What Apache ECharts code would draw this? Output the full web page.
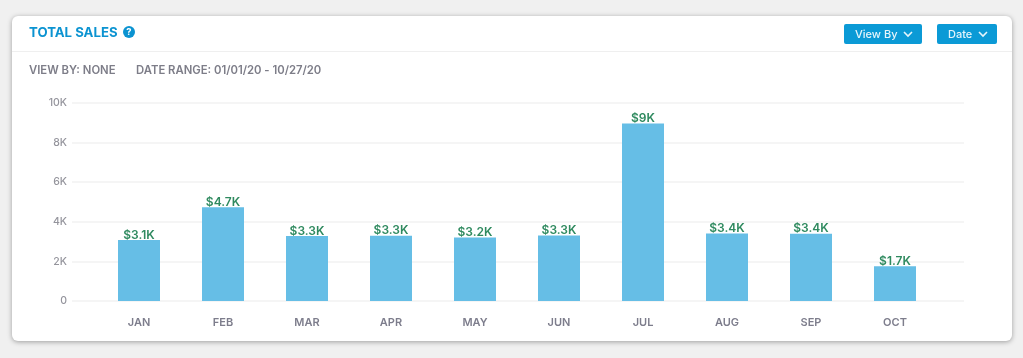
<!DOCTYPE html>
<html><head><meta charset="utf-8">
<style>html,body{margin:0;padding:0;background:#f0f0f0}#c{width:1023px;height:358px}</style>
<script src="https://cdn.jsdelivr.net/npm/echarts@6/dist/echarts.min.js"></script>
</head><body><div id="c"></div>
<script>
const months = ['JAN','FEB','MAR','APR','MAY','JUN','JUL','AUG','SEP','OCT'];
const sales = [3080,4740,3280,3290,3210,3310,8960,3410,3400,1749];
const yTicks = {min:0,max:10000,interval:2000};
const font = 'Inter, "Open Sans", sans-serif';
const chart = echarts.init(document.getElementById('c'));
const fmt = v => '$' + (v/1000).toFixed(1).replace(/\.0$/,'') + 'K';
function btn(x,w,label,tx){
  return [
    {type:'rect',shape:{x:x,y:24,width:w,height:20,r:2},style:{fill:'#0b9ad6'},z:2},
    {type:'text',style:{x:tx,y:34.5,text:label,fill:'#e6f5fb',font:'500 11px '+font,verticalAlign:'middle'},z:3},
    {type:'polyline',shape:{points:[[x+w-18,32],[x+w-14,36],[x+w-10,32]]},style:{stroke:'#e6f5fb',lineWidth:1.6,fill:null},z:3}
  ];
}
chart.setOption({
  animation:false,
  backgroundColor:'#f0f0f0',
  graphic:[
    {type:'rect',shape:{x:12,y:16,width:1000,height:325,r:6},style:{fill:'#fff',shadowBlur:5,shadowColor:'rgba(0,0,0,0.35)',shadowOffsetY:1},z:0},
    {type:'line',shape:{x1:12,y1:51.5,x2:1012,y2:51.5},style:{stroke:'#efefef',lineWidth:1},z:1},
    {type:'text',style:{x:29,y:33.5,text:'TOTAL SALES',fill:'#0b93d1',font:'700 13.2px '+font,verticalAlign:'middle'},z:2},
    {type:'circle',shape:{cx:129,cy:32,r:6},style:{fill:'#0b93d1'},z:2},
    {type:'text',style:{x:129,y:32.5,text:'?',fill:'#fff',font:'700 9.5px '+font,align:'center',verticalAlign:'middle'},z:3},
    {type:'text',style:{x:29,y:70.5,text:'VIEW BY: NONE',fill:'#7d7d88',font:'600 11.3px '+font,verticalAlign:'middle'},z:2},
    {type:'text',style:{x:136,y:70.5,text:'DATE RANGE: 01/01/20 - 10/27/20',fill:'#7d7d88',font:'600 11.3px '+font,verticalAlign:'middle'},z:2},
    ...btn(844,78,'View By',855),
    ...btn(937,60,'Date',948)
  ],
  grid:[
    {left:97,right:86,top:103,height:198},
    {left:72,right:59,top:103,height:198}
  ],
  xAxis:[
    {type:'category',gridIndex:0,data:months,axisLine:{show:false},axisTick:{show:false},
     axisLabel:{color:'#7d7d8c',fontFamily:font,fontSize:11,fontWeight:600,margin:16}},
    {type:'value',gridIndex:1,min:0,max:1,show:false}
  ],
  yAxis:[
    {type:'value',gridIndex:0,min:yTicks.min,max:yTicks.max,interval:yTicks.interval,show:false},
    {type:'value',gridIndex:1,min:yTicks.min,max:yTicks.max,interval:yTicks.interval,
     axisLine:{show:false},axisTick:{show:false},
     splitLine:{show:true,lineStyle:{color:'#f5f5f5',width:2}},
     axisLabel:{color:'#94949c',fontFamily:font,fontSize:10.5,fontWeight:500,margin:5,
       formatter:v=>v===0?'0':(v/1000)+'K'}}
  ],
  series:[{
    type:'bar',xAxisIndex:0,yAxisIndex:0,data:sales,barWidth:42,z:5,
    itemStyle:{color:'#66bee6'},
    label:{show:true,position:'top',distance:-1,color:'#2f8a5f',fontFamily:font,fontSize:12,fontWeight:600,
      formatter:p=>fmt(p.value)}
  }]
});
</script></body></html>
